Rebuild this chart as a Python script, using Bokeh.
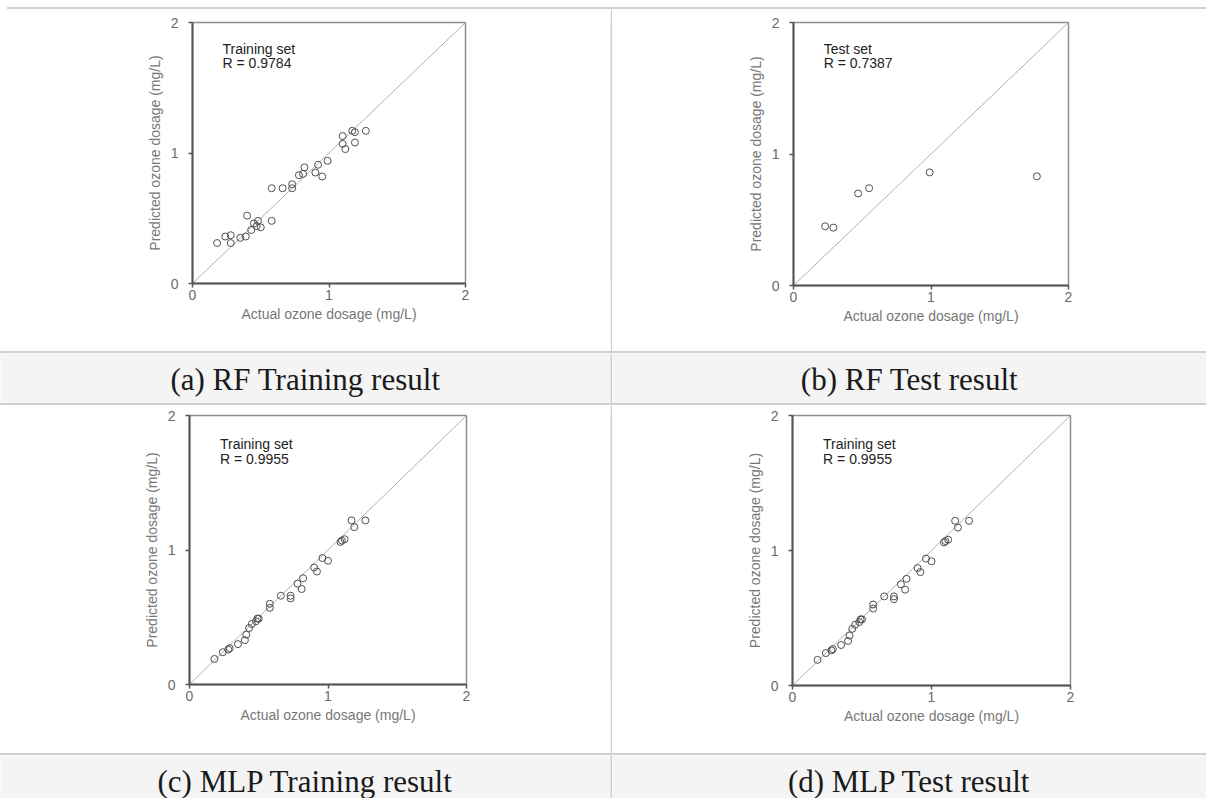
from bokeh.plotting import figure
from bokeh.layouts import column, row
from bokeh.models import Range1d, FixedTicker, Label, Div
from bokeh.embed import file_html
from bokeh.resources import INLINE

# ---------------- data ----------------
rf_train_actual = [0.18, 0.24, 0.28, 0.28, 0.35, 0.39, 0.43, 0.40, 0.45, 0.48, 0.47, 0.50,
                   0.58, 0.58, 0.66, 0.73, 0.73, 0.78, 0.81, 0.82, 0.90, 0.92, 0.95, 0.99,
                   1.10, 1.10, 1.12, 1.17, 1.19, 1.19, 1.27]
rf_train_pred = [0.31, 0.36, 0.37, 0.31, 0.35, 0.36, 0.41, 0.52, 0.46, 0.48, 0.44, 0.43,
                 0.48, 0.73, 0.73, 0.76, 0.73, 0.83, 0.84, 0.89, 0.85, 0.91, 0.82, 0.94,
                 1.13, 1.07, 1.03, 1.17, 1.16, 1.08, 1.17]

rf_test_actual = [0.23, 0.29, 0.47, 0.55, 0.99, 1.77]
rf_test_pred = [0.45, 0.44, 0.70, 0.74, 0.86, 0.83]

mlp_train_actual = [0.18, 0.24, 0.28, 0.29, 0.35, 0.40, 0.41, 0.43, 0.45, 0.48, 0.49, 0.50,
                    0.58, 0.58, 0.66, 0.73, 0.73, 0.78, 0.82, 0.81, 0.90, 0.92, 0.96, 1.00,
                    1.09, 1.10, 1.12, 1.17, 1.19, 1.27]
mlp_train_pred = [0.19, 0.24, 0.26, 0.27, 0.30, 0.33, 0.37, 0.42, 0.45, 0.47, 0.49, 0.49,
                  0.57, 0.60, 0.66, 0.66, 0.64, 0.75, 0.79, 0.71, 0.87, 0.84, 0.94, 0.92,
                  1.06, 1.07, 1.08, 1.22, 1.17, 1.22]

mlp_test_actual = list(mlp_train_actual)
mlp_test_pred = list(mlp_train_pred)

diag = [0, 2]
ticks = [0, 1, 2]

x_title = "Actual ozone dosage (mg/L)"
y_title = "Predicted ozone dosage (mg/L)"
captions = ["(a) RF Training result", "(b) RF Test result",
            "(c) MLP Training result", "(d) MLP Test result"]
set_names = ["Training set", "Test set", "Training set", "Training set"]
r_values = ["R = 0.9784", "R = 0.7387", "R = 0.9955", "R = 0.9955"]

FONT = "Liberation Sans"
LINE = "#d0d0d0"
CAP_BG = "#f4f4f4"


def scatter_fig(xs, ys, set_name, r_text, cell_w, cell_h, left, fw, top, fh, tx, ty1, ty2):
    p = figure(width=cell_w, height=cell_h, output_backend="svg", toolbar_location=None,
               x_range=Range1d(0, 2), y_range=Range1d(0, 2),
               min_border_left=left, min_border_right=cell_w - left - fw,
               min_border_top=top, min_border_bottom=cell_h - top - fh,
               frame_width=fw, frame_height=fh)
    p.xgrid.visible = False
    p.ygrid.visible = False
    p.background_fill_color = "white"
    p.border_fill_color = "white"
    p.outline_line_color = "#8f8f8f"
    p.outline_line_width = 1.5
    for ax in (p.xaxis[0], p.yaxis[0]):
        ax.ticker = FixedTicker(ticks=ticks)
        ax.minor_tick_line_color = None
        ax.axis_line_color = "#555555"
        ax.axis_line_width = 2
        ax.major_tick_line_color = "#555555"
        ax.major_tick_line_width = 1.5
        ax.major_tick_in = 0
        ax.major_tick_out = 4
        ax.major_label_text_font = FONT
        ax.major_label_text_font_size = "14px"
        ax.major_label_text_color = "#6a6a6a"
        ax.axis_label_text_font = FONT
        ax.axis_label_text_font_size = "14px"
        ax.axis_label_text_font_style = "normal"
        ax.axis_label_text_color = "#777777"
    p.xaxis.axis_label = x_title
    p.yaxis.axis_label = y_title
    p.xaxis.major_label_standoff = 2
    p.xaxis.axis_label_standoff = 3
    p.yaxis.major_label_standoff = 10
    p.yaxis.axis_label_standoff = 5

    p.line(diag, diag, line_color="#b0b0b0", line_width=1)
    p.scatter(xs, ys, marker="circle", size=7, fill_color=None,
              line_color="#505050", line_width=1)
    p.add_layout(Label(x=tx, y=ty1, text=set_name, text_font=FONT, text_font_size="14px",
                       text_color="#222222", text_baseline="middle"))
    p.add_layout(Label(x=tx, y=ty2, text=r_text, text_font=FONT, text_font_size="14px",
                       text_color="#222222", text_baseline="middle"))
    return p


def vbar_fig(h):
    f = figure(width=2, height=h, output_backend="svg", toolbar_location=None,
               x_range=Range1d(0, 1), y_range=Range1d(0, 1),
               min_border_left=0, min_border_right=0,
               min_border_top=0, min_border_bottom=0)
    f.axis.visible = False
    f.grid.visible = False
    f.outline_line_color = None
    f.background_fill_color = LINE
    f.border_fill_color = LINE
    return f


def hline(w, color=LINE, h=2):
    return Div(text="", width=w, height=h,
               styles={"background-color": color, "margin": "0", "padding": "0"})


def caption_fig(text, w, h, base_y):
    f = figure(width=w, height=h, output_backend="svg", toolbar_location=None,
               x_range=Range1d(0, 1), y_range=Range1d(0, 1),
               min_border_left=0, min_border_right=0,
               min_border_top=0, min_border_bottom=0)
    f.axis.visible = False
    f.grid.visible = False
    f.outline_line_color = None
    f.background_fill_color = CAP_BG
    f.border_fill_color = CAP_BG
    f.add_layout(Label(x=w / 2, y=base_y, x_units="screen", y_units="screen", text=text,
                       text_align="center", text_baseline="alphabetic",
                       text_font="Liberation Serif", text_font_size="31px",
                       text_color="#1a1a1a"))
    return f


W = 1206
LW, RW = 610, 594
H1, HC1, H2, HC2 = 342, 50, 348, 43

pa = scatter_fig(rf_train_actual, rf_train_pred, set_names[0], r_values[0],
                 LW, H1, 192, 273, 13, 261, 0.22, 1.80, 1.69)
pb = scatter_fig(rf_test_actual, rf_test_pred, set_names[1], r_values[1],
                 RW, H1, 181, 275, 13, 263, 0.22, 1.80, 1.69)
pc = scatter_fig(mlp_train_actual, mlp_train_pred, set_names[2], r_values[2],
                 LW, H2, 189, 277, 10, 269, 0.22, 1.79, 1.68)
pd = scatter_fig(mlp_test_actual, mlp_test_pred, set_names[3], r_values[3],
                 RW, H2, 180, 278, 10, 270, 0.22, 1.79, 1.68)

layout = column(
    hline(W, "white", 7),
    row(hline(7, "white", 2), hline(W - 7)),
    row(pa, vbar_fig(H1), pb),
    hline(W),
    row(caption_fig(captions[0], LW, HC1, 24), vbar_fig(HC1),
        caption_fig(captions[1], RW, HC1, 24)),
    hline(W),
    row(pc, vbar_fig(H2), pd),
    hline(W),
    row(caption_fig(captions[2], LW, HC2, 17), vbar_fig(HC2),
        caption_fig(captions[3], RW, HC2, 17)),
    spacing=0,
)

open("out.html", "w").write(file_html(layout, INLINE))
